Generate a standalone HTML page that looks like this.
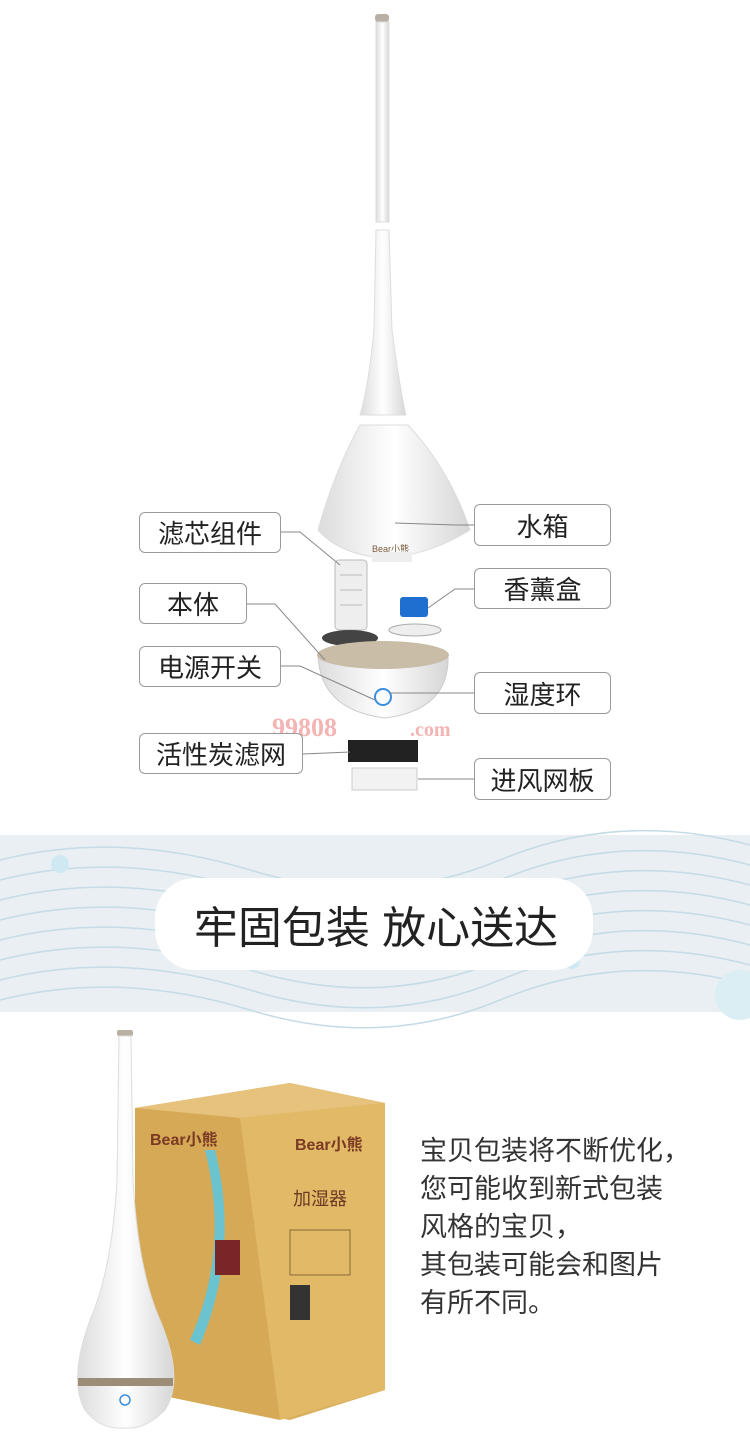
<!DOCTYPE html>
<html><head><meta charset="utf-8"><style>
html,body{margin:0;padding:0;width:750px;height:1454px;background:#fff;overflow:hidden;font-family:"Liberation Sans","Noto Sans CJK SC",sans-serif;}
.lbl{position:absolute;border:1px solid #9a9a9a;border-radius:6px;background:#fff;font-size:26px;color:#222;display:flex;align-items:center;justify-content:center;box-sizing:border-box;}
.txt{position:absolute;left:420px;top:1132px;font-size:27px;line-height:38px;color:#333;}
</style></head><body>
<svg width="750" height="1454" style="position:absolute;left:0;top:0">
<defs>
<linearGradient id="wh" x1="0" x2="1"><stop offset="0" stop-color="#dcdcdc"/><stop offset=".5" stop-color="#fff"/><stop offset="1" stop-color="#d6d6d6"/></linearGradient>
</defs>
<rect x="375" y="14" width="14" height="8" rx="3" fill="#b9b0a5"/>
<rect x="376" y="22" width="13" height="200" fill="url(#wh)" stroke="#ddd"/>
<path d="M376 230 L389 230 L392 330 Q400 390 406 415 L360 415 Q368 390 374 330 Z" fill="url(#wh)" stroke="#ddd"/>
<path d="M360 425 L408 425 Q450 470 470 530 Q430 555 385 558 Q340 555 318 530 Q335 470 360 425 Z" fill="url(#wh)" stroke="#ddd"/>
<text x="372" y="552" font-size="9" fill="#7a5a3a">Bear小熊</text>
<rect x="372" y="552" width="40" height="10" fill="#eee"/>
<rect x="335" y="560" width="32" height="70" rx="4" fill="#eee" stroke="#bbb"/>
<g stroke="#bbb"><line x1="340" y1="575" x2="362" y2="575"/><line x1="340" y1="590" x2="362" y2="590"/><line x1="340" y1="605" x2="362" y2="605"/></g>
<ellipse cx="350" cy="638" rx="28" ry="8" fill="#444"/>
<rect x="400" y="597" width="28" height="20" rx="3" fill="#1e6fd0"/>
<ellipse cx="415" cy="630" rx="26" ry="6" fill="#eee" stroke="#aaa"/>
<path d="M318 655 L448 655 Q450 710 385 718 Q320 710 318 655 Z" fill="url(#wh)" stroke="#ccc"/>
<ellipse cx="383" cy="655" rx="66" ry="14" fill="#c9bda8"/>
<circle cx="383" cy="697" r="8" fill="none" stroke="#3a8ee0" stroke-width="2"/>
<rect x="348" y="740" width="70" height="22" fill="#222"/>
<rect x="352" y="768" width="65" height="22" fill="#f2f2f2" stroke="#ccc"/>
<text x="272" y="736" font-size="26" font-weight="bold" fill="#f4b4b4" font-family="Liberation Serif,serif">99808</text>
<text x="410" y="736" font-size="20" font-weight="bold" fill="#f4b4b4" font-family="Liberation Serif,serif">.com</text>
<g stroke="#888" fill="none" stroke-width="1">
<path d="M281 532 L300 532 L340 565"/>
<path d="M247 604 L275 604 L325 660"/>
<path d="M281 666 L300 666 L375 700"/>
<path d="M303 754 L350 752"/>
<path d="M474 525 L455 525 L395 523"/>
<path d="M474 589 L455 589 L428 608"/>
<path d="M474 693 L390 693"/>
<path d="M474 779 L418 779"/>
</g>
<rect x="0" y="835" width="750" height="177" fill="#e9eff3"/>
<g stroke="#c5dbe6" stroke-width="1.5" fill="none">
<path d="M0 860 Q120 830 250 870 T500 860 T750 845"/>
<path d="M0 880 Q120 850 250 890 T500 880 T750 865"/>
<path d="M0 900 Q120 870 250 910 T500 900 T750 885"/>
<path d="M0 920 Q120 890 250 930 T500 920 T750 905"/>
<path d="M0 940 Q120 910 250 950 T500 940 T750 925"/>
<path d="M0 960 Q120 930 250 970 T500 960 T750 945"/>
<path d="M0 980 Q120 950 250 990 T500 980 T750 965"/>
<path d="M0 1000 Q120 970 250 1010 T500 1000 T750 985"/>
</g>
<circle cx="60" cy="864" r="9" fill="#cfe9f2"/><circle cx="572" cy="961" r="8" fill="#cfe9f2"/><circle cx="183" cy="957" r="5" fill="#cfe9f2"/><circle cx="740" cy="995" r="25" fill="#dbeef4"/>
<rect x="155" y="878" width="438" height="92" rx="40" fill="#fff"/>
<text x="376" y="943" font-size="44" fill="#222" text-anchor="middle" font-family="Liberation Sans,Noto Sans CJK SC,sans-serif">牢固包装  放心送达</text>
<!-- box -->
<polygon points="135,1108 290,1083 385,1103 385,1390 290,1420 135,1390" fill="#d9ae5d"/>
<polygon points="135,1108 290,1083 385,1103 240,1118" fill="#e6c27c"/>
<polygon points="240,1118 385,1103 385,1390 280,1420" fill="#e2b966"/>
<polygon points="135,1108 240,1118 280,1420 135,1390" fill="#d5a955"/>
<path d="M205 1150 Q230 1250 190 1340 L200 1345 Q240 1250 215 1150 Z" fill="#6cc3d0"/>
<rect x="215" y="1240" width="25" height="35" fill="#7a2626"/>
<rect x="290" y="1230" width="60" height="45" fill="none" stroke="#8a6a3a"/>
<rect x="290" y="1285" width="20" height="35" fill="#333"/>
<text x="150" y="1145" font-size="16" fill="#7a3a24" font-weight="bold">Bear小熊</text>
<text x="295" y="1150" font-size="16" fill="#7a3a24" font-weight="bold">Bear小熊</text>
<text x="293" y="1205" font-size="18" fill="#6a3a24">加湿器</text>
<!-- humidifier front -->
<rect x="117" y="1030" width="16" height="6" rx="2" fill="#b9b0a5"/>
<path d="M119 1036 L131 1036 L133 1180 Q138 1270 160 1320 Q185 1380 165 1410 Q145 1430 125 1428 Q100 1430 85 1410 Q68 1380 90 1320 Q112 1270 117 1180 Z" fill="url(#wh)" stroke="#ddd"/>
<rect x="78" y="1378" width="95" height="8" fill="#9c8d78"/>
<circle cx="125" cy="1400" r="5" fill="none" stroke="#3a8ee0" stroke-width="1.5"/>
</svg>
<div class="lbl" style="left:139px;top:512px;width:142px;height:41px">滤芯组件</div>
<div class="lbl" style="left:139px;top:583px;width:108px;height:41px">本体</div>
<div class="lbl" style="left:139px;top:646px;width:142px;height:41px">电源开关</div>
<div class="lbl" style="left:139px;top:733px;width:164px;height:41px">活性炭滤网</div>
<div class="lbl" style="left:474px;top:504px;width:137px;height:42px">水箱</div>
<div class="lbl" style="left:474px;top:568px;width:137px;height:41px">香薰盒</div>
<div class="lbl" style="left:474px;top:672px;width:137px;height:42px">湿度环</div>
<div class="lbl" style="left:474px;top:758px;width:137px;height:42px">进风网板</div>
<div class="txt">宝贝包装将不断优化，<br>您可能收到新式包装<br>风格的宝贝，<br>其包装可能会和图片<br>有所不同。</div>
</body></html>
